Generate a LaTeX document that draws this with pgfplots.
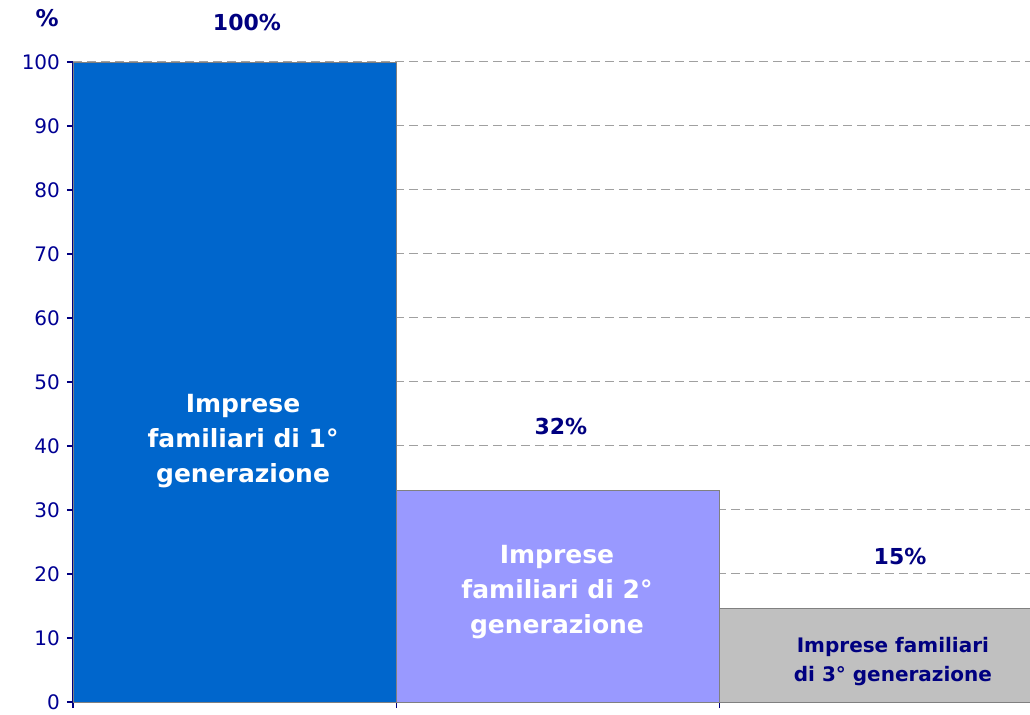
\documentclass[border=0pt]{standalone}
\usepackage{pgfplots}
\pgfplotsset{compat=1.18}
\usepackage{fontspec}
\setmainfont{DejaVu Sans}
\definecolor{navy}{HTML}{000080}
\definecolor{barA}{HTML}{0066CC}
\definecolor{barB}{HTML}{9999FF}
\definecolor{barC}{HTML}{C0C0C0}
\definecolor{gridc}{HTML}{A0A0A0}
\begin{document}
\begin{tikzpicture}
\begin{axis}[
  scale only axis,
  width=478.5pt, height=320pt,
  xmin=0, xmax=2.96,
  ymin=0, ymax=100,
  ytick={0,10,...,100},
  xtick={0,1,2},
  xticklabels={},
  tick align=outside,
  major tick length=3pt,
  tick style={navy, line width=0.6pt},
  axis x line*=bottom,
  axis y line*=left,
  axis line style={navy, line width=0.6pt, -},
  ymajorgrids,
  grid style={gridc, dash pattern=on 4.5pt off 2.5pt, line width=0.5pt},
  /pgf/number format/assume math mode=true,
  yticklabel style={font=\fontsize{10}{12}\selectfont, text=navy!85!blue},
  clip mode=individual,
]
\addplot[ybar, bar width=1, fill=barA, draw=gray, line width=0.4pt] coordinates {(0.5,100)};
\addplot[ybar, bar width=1, fill=barB, draw=gray, line width=0.4pt] coordinates {(1.5,33.1)};
\addplot[ybar, bar width=1, fill=barC, draw=gray, line width=0.4pt] coordinates {(2.5,14.7)};
\node[text=navy, font=\bfseries\fontsize{11.5}{13}\selectfont] at (axis cs:-0.080,106.8) {\%};
\node[text=navy, font=\bfseries\fontsize{11}{13}\selectfont] at (axis cs:0.538,106.2) {100\%};
\node[text=navy, font=\bfseries\fontsize{11}{13}\selectfont] at (axis cs:1.509,43.1) {32\%};
\node[text=navy, font=\bfseries\fontsize{11}{13}\selectfont] at (axis cs:2.558,22.7) {15\%};
\node[text=white, align=center, font=\bfseries\fontsize{12.5}{17.5}\selectfont] at (axis cs:0.526,40.8) {Imprese\\familiari di 1°\\generazione};
\node[text=white, align=center, font=\bfseries\fontsize{12.5}{17.5}\selectfont] at (axis cs:1.497,17.2) {Imprese\\familiari di 2°\\generazione};
\node[text=navy, align=center, font=\bfseries\fontsize{10}{14.5}\selectfont] at (axis cs:2.536,6.3) {Imprese familiari\\di 3° generazione};
\end{axis}
\path (current axis.south west) ++(-36.5pt,-6.5pt) coordinate (bbA);
\path (current axis.north east) ++(0pt,31pt) coordinate (bbB);
\pgfresetboundingbox
\useasboundingbox (bbA) rectangle (bbB);
\end{tikzpicture}
\end{document}
